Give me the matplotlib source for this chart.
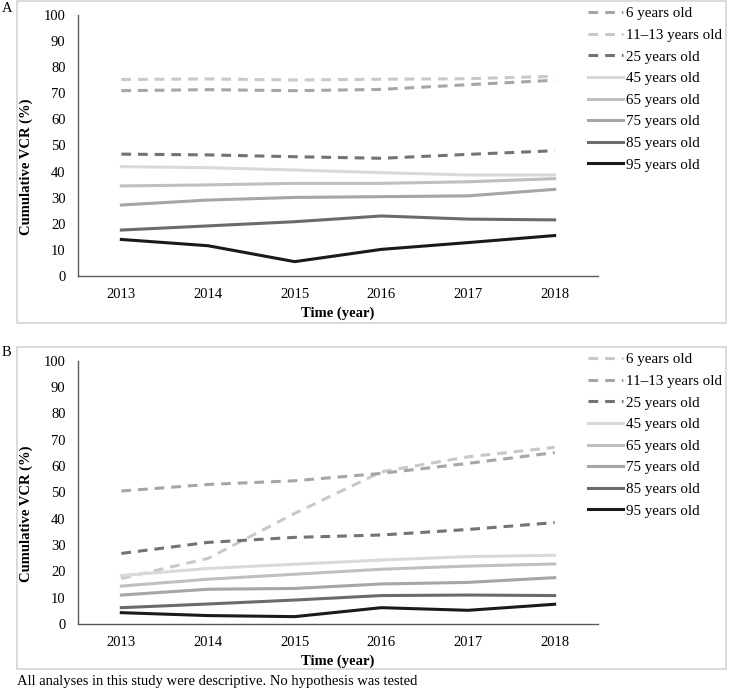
import numpy as np
import matplotlib
matplotlib.use('Agg')
import matplotlib.pyplot as plt
from matplotlib.patches import Rectangle

plt.rcParams['font.family'] = ['Liberation Serif', 'DejaVu Serif']
plt.rcParams['lines.scale_dashes'] = False

years = ['2013', '2014', '2015', '2016', '2017', '2018']
labels = ['6 years old', '11\u201313 years old', '25 years old', '45 years old',
          '65 years old', '75 years old', '85 years old', '95 years old']

# panel A values (%)
a_6 = [71.0, 71.4, 71.0, 71.5, 73.3, 75.0]
a_11 = [75.3, 75.5, 75.1, 75.4, 75.6, 76.5]
a_25 = [46.7, 46.4, 45.7, 45.1, 46.6, 48.0]
a_45 = [41.9, 41.5, 40.6, 39.6, 38.7, 38.7]
a_65 = [34.5, 34.9, 35.5, 35.5, 36.1, 37.3]
a_75 = [27.2, 29.1, 30.1, 30.4, 30.7, 33.2]
a_85 = [17.6, 19.2, 20.8, 23.0, 21.8, 21.5]
a_95 = [14.0, 11.6, 5.5, 10.2, 12.8, 15.5]

# panel B values (%)
b_6 = [17.3, 24.9, 42.0, 57.8, 63.5, 67.1]
b_11 = [50.5, 53.0, 54.4, 57.2, 61.0, 65.1]
b_25 = [26.8, 31.0, 32.9, 33.8, 35.9, 38.5]
b_45 = [18.4, 21.1, 22.7, 24.3, 25.6, 26.1]
b_65 = [14.4, 17.0, 18.9, 20.8, 22.0, 22.8]
b_75 = [11.0, 13.2, 13.5, 15.2, 15.8, 17.6]
b_85 = [6.2, 7.6, 9.1, 10.8, 11.0, 10.8]
b_95 = [4.3, 3.2, 2.8, 6.2, 5.2, 7.5]

W, H = 730, 695
fig = plt.figure(figsize=(7.3, 6.95), dpi=100)

# panel frames
for top, bot in [(1, 323), (347, 669)]:
    fig.patches.append(Rectangle((17 / W, 1 - bot / H), 709 / W, (bot - top) / H,
                                 transform=fig.transFigure, fill=False,
                                 edgecolor='#d4d4d4', linewidth=1.2))

def panel(ax_rect, series, colors, styles, letter, letter_y, leg_top):
    ax = fig.add_axes(ax_rect)
    x = np.arange(len(years)) + 0.5
    handles = []
    for vals, c, ls, lab in zip(series, colors, styles, labels):
        if ls == 'dash':
            h, = ax.plot(x, vals, color=c, lw=2.2, dashes=(7, 5), label=lab)
        else:
            h, = ax.plot(x, vals, color=c, lw=2.2, label=lab)
        handles.append(h)
    ax.set_xlim(0, 6)
    ax.set_ylim(0, 100)
    ax.set_yticks(range(0, 101, 10))
    ax.set_xticks(x)
    ax.set_xticklabels(years)
    ax.tick_params(length=0, labelsize=10.5, pad=9)
    ax.tick_params(axis='y', pad=9)
    for s in ['top', 'right']:
        ax.spines[s].set_visible(False)
    for s in ['left', 'bottom']:
        ax.spines[s].set_color('#595959')
        ax.spines[s].set_linewidth(1.0)
    ax.set_ylabel('Cumulative VCR (%)', fontsize=10.5, fontweight='bold')
    ax.yaxis.set_label_coords(-0.087, 0.42)
    ax.set_xlabel('Time (year)', fontsize=10.5, fontweight='bold', labelpad=3.5)
    fig.text(2 / W, 1 - letter_y / H, letter, fontsize=10.5, va='center', ha='left')
    fig.legend(handles=handles, loc='upper left',
               bbox_to_anchor=(588 / W, 1 - leg_top / H), frameon=False,
               fontsize=10.8, handlelength=2.35, handletextpad=0.2,
               labelspacing=0.54, borderpad=0, borderaxespad=0)
    return ax

colA = ['#a6a6a6', '#c9c9c9', '#737373', '#d9d9d9', '#bfbfbf', '#a6a6a6', '#6b6b6b', '#1a1a1a']
colB = ['#c9c9c9', '#a6a6a6', '#737373', '#d9d9d9', '#bfbfbf', '#a6a6a6', '#6b6b6b', '#1a1a1a']
styles = ['dash', 'dash', 'dash', 'solid', 'solid', 'solid', 'solid', 'solid']

panel([78 / W, 1 - 276 / H, 520 / W, 261 / H],
      [a_6, a_11, a_25, a_45, a_65, a_75, a_85, a_95], colA, styles, 'A', 8, 7)
panel([78 / W, 1 - 624 / H, 520 / W, 263.3 / H],
      [b_6, b_11, b_25, b_45, b_65, b_75, b_85, b_95], colB, styles, 'B', 352, 353)

fig.text(17 / W, 1 - 681 / H,
         'All analyses in this study were descriptive. No hypothesis was tested',
         fontsize=10.5, va='center', ha='left')

fig.savefig('out.png', dpi=100)
